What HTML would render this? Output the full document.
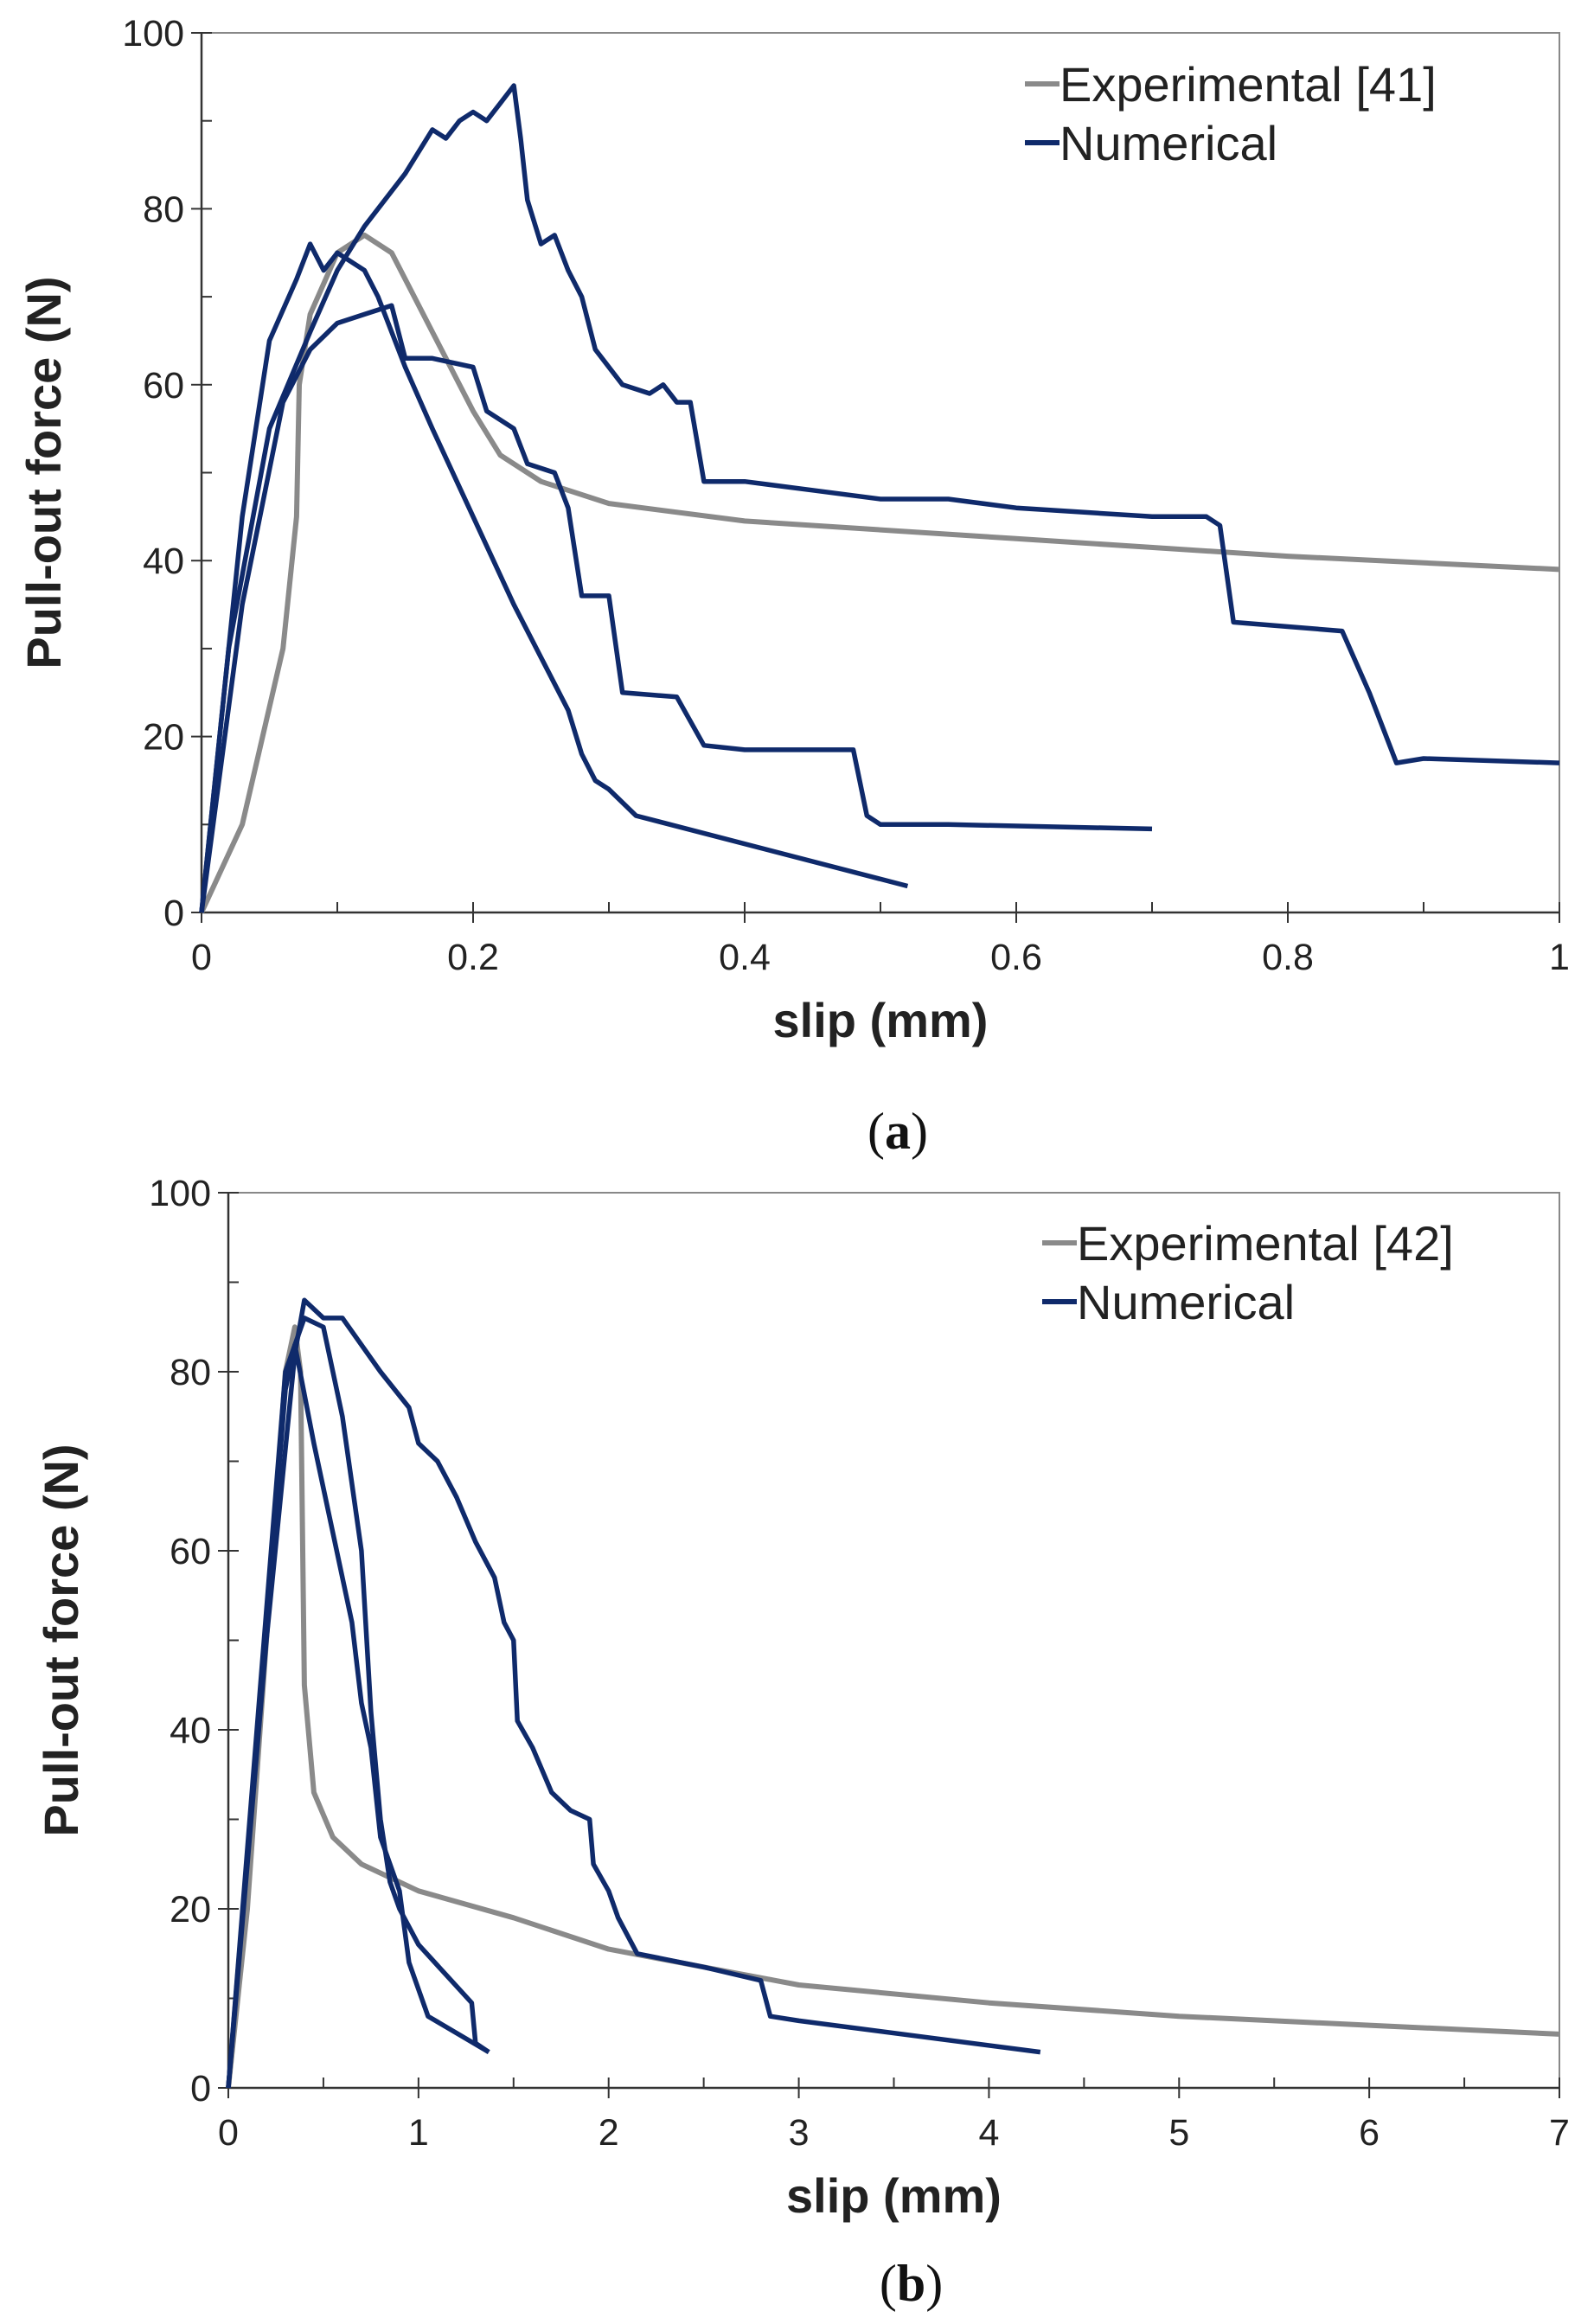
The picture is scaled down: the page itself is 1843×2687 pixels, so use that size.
<!DOCTYPE html>
<html><head><meta charset="utf-8"><style>
html,body{margin:0;padding:0;background:#fff;}
svg{display:block;font-family:"Liberation Sans",sans-serif;}
</style></head><body>
<svg id="fig" width="1843" height="2687" viewBox="0 0 1843 2687"></svg>
<script>
// Chart (a) data
const aTicksX = [0,0.2,0.4,0.6,0.8,1];
const aTicksY = [0,20,40,60,80,100];
const aExpX = [0,0.03,0.06,0.07,0.072,0.08,0.1,0.12,0.14,0.16,0.18,0.2,0.22,0.25,0.3,0.4,0.6,0.8,1];
const aExpY = [0,10,30,45,60,68,75,77,75,69,63,57,52,49,46.5,44.5,42.5,40.5,39];
const aN1X = [0,0.02,0.05,0.08,0.1,0.12,0.15,0.17,0.18,0.19,0.2,0.21,0.22,0.23,0.235,0.24,0.25,0.26,0.27,0.28,0.29,0.31,0.33,0.34,0.35,0.36,0.37,0.4,0.45,0.5,0.55,0.6,0.65,0.7,0.74,0.75,0.76,0.8,0.84,0.86,0.88,0.9,1];
const aN1Y = [0,30,55,66,73,78,84,89,88,90,91,90,92,94,88,81,76,77,73,70,64,60,59,60,58,58,49,49,48,47,47,46,45.5,45,45,44,33,32.5,32,25,17,17.5,17];
const aN2X = [0,0.03,0.05,0.07,0.08,0.09,0.1,0.12,0.13,0.15,0.17,0.2,0.23,0.25,0.27,0.28,0.29,0.3,0.32,0.52];
const aN2Y = [0,45,65,72,76,73,75,73,70,62,55,45,35,29,23,18,15,14,11,3];
const aN3X = [0,0.03,0.06,0.08,0.1,0.12,0.14,0.15,0.17,0.2,0.21,0.23,0.24,0.26,0.27,0.28,0.3,0.31,0.35,0.37,0.4,0.48,0.49,0.5,0.55,0.7];
const aN3Y = [0,35,58,64,67,68,69,63,63,62,57,55,51,50,46,36,36,25,24.5,19,18.5,18.5,11,10,10,9.5];
// Chart (b) data
const bTicksX = [0,1,2,3,4,5,6,7];
const bTicksY = [0,20,40,60,80,100];
const bExpX = [0,0.1,0.2,0.3,0.35,0.38,0.4,0.45,0.55,0.7,1,1.5,2,2.5,3,4,5,6,7];
const bExpY = [0,20,50,80,85,80,45,33,28,25,22,19,15.5,13.5,11.5,9.5,8,7,6];
const bN1X = [0,0.2,0.35,0.4,0.5,0.6,0.8,0.95,1,1.1,1.2,1.3,1.4,1.45,1.5,1.52,1.6,1.7,1.8,1.9,1.92,2,2.05,2.15,2.5,2.8,2.85,3,4.27];
const bN1Y = [0,50,82,88,86,86,80,76,72,70,66,61,57,52,50,41,38,33,31,30,25,22,19,15,13.5,12,8,7.5,4];
const bN2X = [0,0.3,0.4,0.5,0.6,0.7,0.75,0.8,0.85,0.9,1.0,1.28,1.3,1.37];
const bN2Y = [0,80,86,85,75,60,42,30,23,20,16,9.5,5,4];
const bN3X = [0,0.3,0.35,0.45,0.55,0.65,0.7,0.75,0.8,0.9,0.95,1.05,1.37];
const bN3Y = [0,78,83,72,62,52,43,38,28,22,14,8,4];

const NS="http://www.w3.org/2000/svg";
const svg=document.getElementById('fig');
function mk(tag,attrs,parent){const e=document.createElementNS(NS,tag);for(const k in attrs)e.setAttribute(k,attrs[k]);(parent||svg).appendChild(e);return e;}

function chart(o){
  const g=mk('g',{});
  
  
  const sx=v=>o.x0+(v-o.xmin)/(o.xmax-o.xmin)*(o.x1-o.x0);
  const sy=v=>o.y0-(v-0)/100*(o.y0-o.y1);
  const frame=mk('rect',{x:o.x0,y:o.y1,width:o.x1-o.x0,height:o.y0-o.y1,fill:'none',stroke:'#888','stroke-width':2},g);
  
  
  mk('line',{x1:o.x0,y1:o.y0,x2:o.x1,y2:o.y0,stroke:'#333','stroke-width':2.5},g);
  mk('line',{x1:o.x0,y1:o.y0,x2:o.x0,y2:o.y1,stroke:'#333','stroke-width':2.5},g);
  const step=o.ticksX[1]-o.ticksX[0];
  for(let v=o.xmin;v<=o.xmax+1e-9;v+=step/2){mk('line',{x1:sx(v),y1:o.y0,x2:sx(v),y2:o.y0-12,stroke:'#333','stroke-width':2},g);}
  for(let v=0;v<=100;v+=10){mk('line',{x1:o.x0,y1:sy(v),x2:o.x0+12,y2:sy(v),stroke:'#333','stroke-width':2},g);}
  o.ticksX.forEach(v=>{
    mk('line',{x1:sx(v),y1:o.y0,x2:sx(v),y2:o.y0+12,stroke:'#333','stroke-width':2},g);
    const t=mk('text',{x:sx(v),y:o.y0+66,'font-size':43,'text-anchor':'middle',fill:'#222'},g);t.textContent=String(v);
    
    
  });
  o.ticksY.forEach(v=>{
    mk('line',{x1:o.x0-12,y1:sy(v),x2:o.x0,y2:sy(v),stroke:'#333','stroke-width':2},g);
    const t=mk('text',{x:o.x0-20,y:sy(v)+15,'font-size':43,'text-anchor':'end',fill:'#222'},g);t.textContent=String(v);
    
    
  });
  const xt=mk('text',{x:(o.x0+o.x1)/2,y:o.y0+144,'font-size':56,'font-weight':'bold','text-anchor':'middle',fill:'#222'},g);xt.textContent='slip (mm)';
  
  
  const yc=(o.y0+o.y1)/2, yx=o.yTitleX;
  const yt=mk('text',{x:yx,y:yc,'font-size':56,'font-weight':'bold','text-anchor':'middle',fill:'#222',transform:`rotate(-90 ${yx} ${yc})`},g);yt.textContent='Pull-out force (N)';
  
  
  o.series.forEach(s=>{
    const d=s.x.map((v,i)=>(i?'L':'M')+sx(v).toFixed(1)+' '+sy(s.y[i]).toFixed(1)).join(' ');
    const p=mk('path',{d:d,fill:'none',stroke:s.c,'stroke-width':s.w,'stroke-linejoin':'round'},g);
    
    
  });
  const lx=o.legX, ly=o.legY;
  mk('line',{x1:lx,y1:ly,x2:lx+40,y2:ly,stroke:'#8a8a8a','stroke-width':6},g);
  const l1=mk('text',{x:lx+40,y:ly+20,'font-size':56,fill:'#222'},g);l1.textContent=o.expLabel;
  
  
  mk('line',{x1:lx,y1:ly+68,x2:lx+40,y2:ly+68,stroke:'#0f2a6b','stroke-width':6},g);
  const l2=mk('text',{x:lx+40,y:ly+88,'font-size':56,fill:'#222'},g);l2.textContent='Numerical';
  
  
  const cap=mk('text',{x:(o.x0+o.x1)/2+20,y:o.capY,'font-size':60,'font-family':'"Liberation Serif",serif','text-anchor':'middle',fill:'#111'},g);
  cap.innerHTML='(<tspan font-weight="bold">'+o.cap+'</tspan>)';
  
  
}
const G='#8a8a8a', N='#0f2a6b';
chart({name:'chart-a',x0:233,x1:1803,y0:1055,y1:38,xmin:0,xmax:1,ticksX:aTicksX,ticksY:aTicksY,yTitleX:70,
  legX:1185,legY:97,expLabel:'Experimental [41]',cap:'a',capY:1328,
  series:[{x:aExpX,y:aExpY,c:G,w:6,n:'experimental-line'},{x:aN1X,y:aN1Y,c:N,w:5.5,n:'numerical-line-1'},{x:aN2X,y:aN2Y,c:N,w:5.5,n:'numerical-line-2'},{x:aN3X,y:aN3Y,c:N,w:5.5,n:'numerical-line-3'}]});
chart({name:'chart-b',x0:264,x1:1803,y0:2414,y1:1379,xmin:0,xmax:7,ticksX:bTicksX,ticksY:bTicksY,yTitleX:90,
  legX:1205,legY:1437,expLabel:'Experimental [42]',cap:'b',capY:2660,
  series:[{x:bExpX,y:bExpY,c:G,w:6,n:'experimental-line'},{x:bN1X,y:bN1Y,c:N,w:5.5,n:'numerical-line-1'},{x:bN2X,y:bN2Y,c:N,w:5.5,n:'numerical-line-2'},{x:bN3X,y:bN3Y,c:N,w:5.5,n:'numerical-line-3'}]});
</script>
</body></html>
